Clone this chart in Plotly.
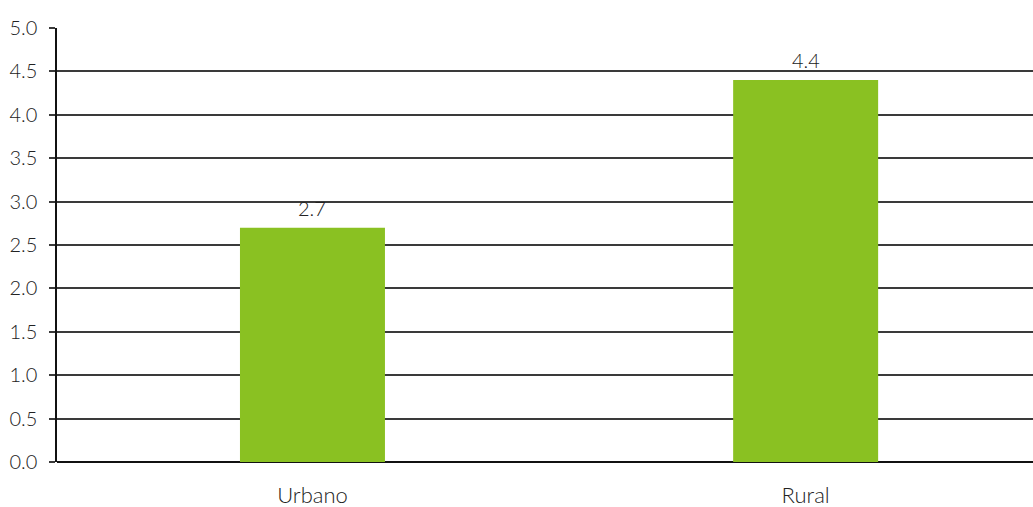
import plotly.graph_objects as go

categories = ["Urbano", "Rural"]
values = [2.7, 4.4]
value_labels = ["2.7", "4.4"]
y_ticks = [0, 0.5, 1, 1.5, 2, 2.5, 3, 3.5, 4, 4.5, 5]
y_tick_labels = ["0.0", "0.5", "1.0", "1.5", "2.0", "2.5", "3.0", "3.5", "4.0", "4.5", "5.0"]

font_family = "Lato, 'Open Sans', sans-serif"
text_font = dict(family=font_family, size=20, color="#222222", weight=300)

fig = go.Figure(
    go.Bar(
        x=[0, 1],
        y=values,
        width=0.294,
        marker=dict(color="#8ac122", line=dict(width=0)),
    )
)

# value labels sitting just above each bar
for i, (v, lab) in enumerate(zip(values, value_labels)):
    fig.add_annotation(
        x=i, y=v, text=lab, showarrow=False,
        xanchor="center", yanchor="bottom", yshift=6,
        font=text_font,
    )

fig.update_layout(
    width=1033,
    height=507,
    margin=dict(l=57, r=0, t=28, b=45),
    paper_bgcolor="white",
    plot_bgcolor="white",
    showlegend=False,
    font=text_font,
    xaxis=dict(
        range=[-0.518, 1.461],
        tickmode="array",
        tickvals=[0, 1],
        ticktext=categories,
        showgrid=False,
        zeroline=False,
        showline=False,
        ticks="",
        automargin=False,
        ticklabelstandoff=18,
        tickfont=dict(family=font_family, size=22, color="#222222", weight=300),
    ),
    yaxis=dict(
        range=[0, 5],
        tickmode="array",
        tickvals=y_ticks,
        ticktext=y_tick_labels,
        showgrid=True,
        gridcolor="#3a3a3a",
        gridwidth=1.5,
        zeroline=True,
        zerolinecolor="#111111",
        zerolinewidth=1.5,
        showline=True,
        linecolor="#111111",
        linewidth=1.5,
        ticks="outside",
        ticklen=6,
        tickcolor="#3a3a3a",
        tickwidth=1.5,
        automargin=False,
        ticklabelstandoff=8,
        tickfont=text_font,
    ),
)

fig.write_html("out.html")
